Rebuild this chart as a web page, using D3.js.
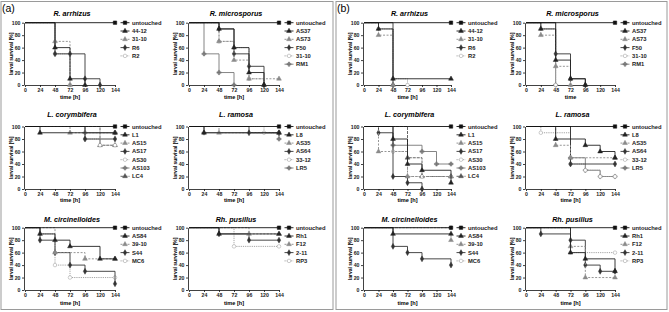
<!DOCTYPE html>
<html>
<head>
<meta charset="utf-8">
<script src="https://cdn.jsdelivr.net/npm/d3@7"></script>
<style>
body{margin:0;background:#fff;}
svg{display:block;font-family:"Liberation Sans",Arial,sans-serif;}
</style>
</head>
<body>
<svg id="chart" width="669" height="312"></svg>
<script>
// ticks and labels
const timeTicks = [0, 24, 48, 72, 96, 120, 144];
const survivalTicks = [0, 20, 40, 60, 80, 100];
const panelLabels = ["(a)", "(b)"];
const plotTitles = ["R. arrhizus", "R. microsporus", "R. arrhizus", "R. microsporus",
    "L. corymbifera", "L. ramosa", "L. corymbifera", "L. ramosa",
    "M. circinelloides", "Rh. pusillus", "M. circinelloides", "Rh. pusillus"];
const timeLabels = ["time [h]", "time [h]", "time [h]", "time",
    "time [h]", "time [h]", "time [h]", "time [h]",
    "time [h]", "time [h]", "time [h]", "time [h]"];

// series names
const namesArrhizus = ["untouched", "44-12", "31-10", "R6", "R2"];
const namesMicrosporus = ["untouched", "AS37", "AS73", "F50", "31-10", "RM1"];
const namesCorymbifera = ["untouched", "L1", "AS15", "AS17", "AS30", "AS103", "LC4"];
const namesRamosa = ["untouched", "L8", "AS35", "AS64", "33-12", "LR5"];
const namesCircinelloides = ["untouched", "AS84", "39-10", "S44", "MC6"];
const namesPusillus = ["untouched", "Rh1", "F12", "2-11", "RP3"];

// survival [time h, % alive], one list per series
const survArrhizusA = [
    [[0,100],[144,100]],
    [[0,100],[48,60],[72,10],[96,0]],
    [[0,100],[48,70],[72,0]],
    [[0,100],[48,50],[72,50],[96,10],[120,0]],
    [[0,100],[48,50],[72,0]]
];
const survMicrosporusA = [
    [[0,100],[144,100]],
    [[0,100],[48,90],[72,60],[96,20],[120,0]],
    [[0,100],[48,70],[72,40],[96,10],[144,10]],
    [[0,100],[48,90],[72,50],[96,30],[120,0]],
    [[0,100],[48,70],[72,60],[96,10],[120,0]],
    [[0,100],[24,50],[48,20],[72,0]]
];
const survArrhizusB = [
    [[0,100],[144,100]],
    [[0,100],[24,90],[48,10],[144,10]],
    [[0,100],[24,80],[48,0]],
    [[0,100],[48,0]],
    [[0,100],[24,90],[48,10],[72,0]]
];
const survMicrosporusB = [
    [[0,100],[144,100]],
    [[0,100],[24,90],[48,40],[72,10],[96,0]],
    [[0,100],[24,80],[48,30],[72,0]],
    [[0,100],[48,50],[72,10],[96,0]],
    [[0,100],[24,90],[48,0]],
    [[0,100],[48,0]]
];
const survCorymbiferaA = [
    [[0,100],[144,100]],
    [[0,100],[24,90],[144,90]],
    [[0,100],[72,90],[144,90]],
    [[0,100],[96,80],[144,80]],
    [[0,100],[96,80],[120,70],[144,70]],
    [[0,100],[96,90],[144,90]],
    [[0,100],[120,70],[144,70]]
];
const survRamosaA = [
    [[0,100],[144,100]],
    [[0,100],[24,90],[144,90]],
    [[0,100],[48,90],[144,90]],
    [[0,100],[96,90],[144,90]],
    [[0,100],[120,90],[144,90]],
    [[0,100],[24,90],[144,80]]
];
const survCorymbiferaB = [
    [[0,100],[144,100]],
    [[0,100],[48,80],[72,40],[96,30],[144,10]],
    [[0,100],[24,60],[72,20],[144,20]],
    [[0,100],[24,90],[48,20],[72,10],[96,0]],
    [[0,100],[48,60],[72,20],[96,20],[144,20]],
    [[0,100],[48,70],[96,60],[120,40],[144,40]],
    [[0,100],[72,50],[96,20],[144,20]]
];
const survRamosaB = [
    [[0,100],[144,100]],
    [[0,100],[48,80],[96,70],[120,60],[144,50]],
    [[0,100],[48,70],[72,50],[144,50]],
    [[0,100],[72,40],[144,40]],
    [[0,100],[24,90],[72,40],[96,30],[120,20],[144,20]],
    [[0,100],[72,50],[96,30],[120,20],[144,20]]
];
const survCircinelloidesA = [
    [[0,100],[144,100]],
    [[0,100],[24,90],[48,80],[72,70],[120,50],[144,50]],
    [[0,100],[48,60],[96,50],[144,50]],
    [[0,100],[24,80],[48,60],[72,40],[96,30],[144,10]],
    [[0,100],[24,90],[48,40],[72,20],[144,20]]
];
const survPusillusA = [
    [[0,100],[144,100]],
    [[0,100],[48,90],[144,90]],
    [[0,100],[96,90],[144,90]],
    [[0,100],[48,90],[96,80],[144,80]],
    [[0,100],[72,70],[144,70]]
];
const survCircinelloidesB = [
    [[0,100],[144,100]],
    [[0,100],[48,90],[144,90]],
    [[0,100],[144,80]],
    [[0,100],[48,70],[72,60],[96,50],[144,40]],
    [[0,100],[144,100]]
];
const survPusillusB = [
    [[0,100],[144,100]],
    [[0,100],[72,60],[96,50],[144,30]],
    [[0,100],[72,70],[96,20],[144,20]],
    [[0,100],[24,90],[72,80],[96,40],[120,30],[144,30]],
    [[0,100],[72,60],[144,60]]
];

const plotNames = [namesArrhizus, namesMicrosporus, namesArrhizus, namesMicrosporus,
    namesCorymbifera, namesRamosa, namesCorymbifera, namesRamosa,
    namesCircinelloides, namesPusillus, namesCircinelloides, namesPusillus];
const plotSurv = [survArrhizusA, survMicrosporusA, survArrhizusB, survMicrosporusB,
    survCorymbiferaA, survRamosaA, survCorymbiferaB, survRamosaB,
    survCircinelloidesA, survPusillusA, survCircinelloidesB, survPusillusB];

// layout
const colX = [[25,115],[189,279],[364,451],[526,615]];
const rowY = [[22.7,85],[126.5,189],[227.7,290]];
const titleY = [16, 117, 222];
const xLabelY = [99, 201.5, 305];

// series look, by index
const strokes = ["#111","#222","#8a8a8a","#333","#9a9a9a","#777","#555"];
const dashes = [null, null, "2,1.5", null, "1.2,1", null, "3,1"];
const symbols = [d3.symbolSquare, d3.symbolTriangle, d3.symbolTriangle, d3.symbolDiamond,
    d3.symbolCircle, d3.symbolCross, d3.symbolTriangle];
const openSym = [false, false, false, false, true, false, false];

const svg = d3.select("#chart");

// panel frames
svg.append("rect").attr("x",1).attr("y",1.5).attr("width",332).attr("height",308)
    .attr("fill","none").attr("stroke","#9a9a9a").attr("stroke-width",1);
svg.append("rect").attr("x",336).attr("y",1.5).attr("width",331).attr("height",308)
    .attr("fill","none").attr("stroke","#9a9a9a").attr("stroke-width",1);

svg.selectAll(".panelLabel")
    .data(panelLabels)
    .enter().append("text")
    .attr("x", (d, i) => i === 0 ? 2 : 337)
    .attr("y", 11.5)
    .style("font-size", "10.5px")
    .text(d => d);

function drawPlot(k) {
    const r = Math.floor(k / 4), c = k % 4;
    const x0 = colX[c][0], x1 = colX[c][1];
    const yTop = rowY[r][0], yBot = rowY[r][1];

    const x = d3.scaleLinear().domain([0,144]).range([x0, x1]);
    const y = d3.scaleLinear().domain([0,100]).range([yBot, yTop]);

    const g = svg.append("g");

    // axes
    const xAxis = g.append("g")
        .attr("transform", `translate(0,${yBot})`)
        .call(d3.axisBottom(x).tickValues(timeTicks).tickSize(2).tickSizeOuter(0).tickPadding(1.5));
    const yAxis = g.append("g")
        .attr("transform", `translate(${x0 - 1},0)`)
        .call(d3.axisLeft(y).tickValues(survivalTicks).tickSize(2).tickSizeOuter(0).tickPadding(1.5));
    [xAxis, yAxis].forEach(a => {
        a.selectAll("path, line").attr("stroke", "#111").attr("stroke-width", 0.8);
        a.selectAll("text").style("font-size", "5.2px").style("font-weight", "bold")
            .style("font-family", "'Liberation Sans', Arial, sans-serif").attr("fill", "#222");
    });

    // titles
    g.append("text")
        .attr("x", (x0 + x1) / 2 + 2)
        .attr("y", titleY[r])
        .attr("text-anchor", "middle")
        .style("font-size", "7.2px")
        .style("font-weight", "bold")
        .style("font-style", "italic")
        .text(plotTitles[k]);

    g.append("text")
        .attr("x", (x0 + x1) / 2)
        .attr("y", xLabelY[r])
        .attr("text-anchor", "middle")
        .style("font-size", "5.6px")
        .style("font-weight", "bold")
        .text(timeLabels[k]);

    g.append("text")
        .attr("transform", `translate(${x0 - 12},${(yTop + yBot) / 2}) rotate(-90)`)
        .attr("text-anchor", "middle")
        .style("font-size", "5px")
        .style("font-weight", "bold")
        .text("larval survival [%]");

    // curves
    const line = d3.line()
        .x(d => x(d[0]))
        .y(d => y(d[1]))
        .curve(d3.curveStepAfter);

    const surv = plotSurv[k];
    // draw later series first so untouched stays on top
    for (let i = surv.length - 1; i >= 0; i--) {
        g.append("path")
            .datum(surv[i])
            .attr("d", line)
            .attr("fill", "none")
            .attr("stroke", strokes[i])
            .attr("stroke-width", 0.9)
            .attr("stroke-dasharray", dashes[i]);

        g.selectAll(null)
            .data(surv[i].filter(d => d[0] > 0))
            .enter().append("path")
            .attr("transform", d => `translate(${x(d[0])},${y(d[1])})`)
            .attr("d", d3.symbol().type(symbols[i]).size(i === 0 ? 12 : 10))
            .attr("fill", openSym[i] ? "#fff" : strokes[i])
            .attr("stroke", strokes[i])
            .attr("stroke-width", 0.5);
    }

    // legend
    const names = plotNames[k];
    const symX = x1 + 10, textX = x1 + 17;
    const leg = g.selectAll(".leg")
        .data(names)
        .enter().append("g")
        .attr("transform", (d, i) => `translate(0,${yTop + i * 8.3})`);
    leg.append("line")
        .attr("x1", symX - 4.5).attr("x2", symX + 4.5)
        .attr("stroke", (d, i) => strokes[i])
        .attr("stroke-width", 0.9)
        .attr("stroke-dasharray", (d, i) => dashes[i]);
    leg.append("path")
        .attr("transform", `translate(${symX},0)`)
        .attr("d", (d, i) => d3.symbol().type(symbols[i]).size(i === 0 ? 12 : 10)())
        .attr("fill", (d, i) => openSym[i] ? "#fff" : strokes[i])
        .attr("stroke", (d, i) => strokes[i])
        .attr("stroke-width", 0.5);
    leg.append("text")
        .attr("x", textX)
        .attr("dy", "0.35em")
        .style("font-size", "5.8px")
        .style("font-weight", "bold")
        .attr("fill", "#222")
        .text(d => d);
}

d3.range(12).forEach(drawPlot);
</script>
</body>
</html>
